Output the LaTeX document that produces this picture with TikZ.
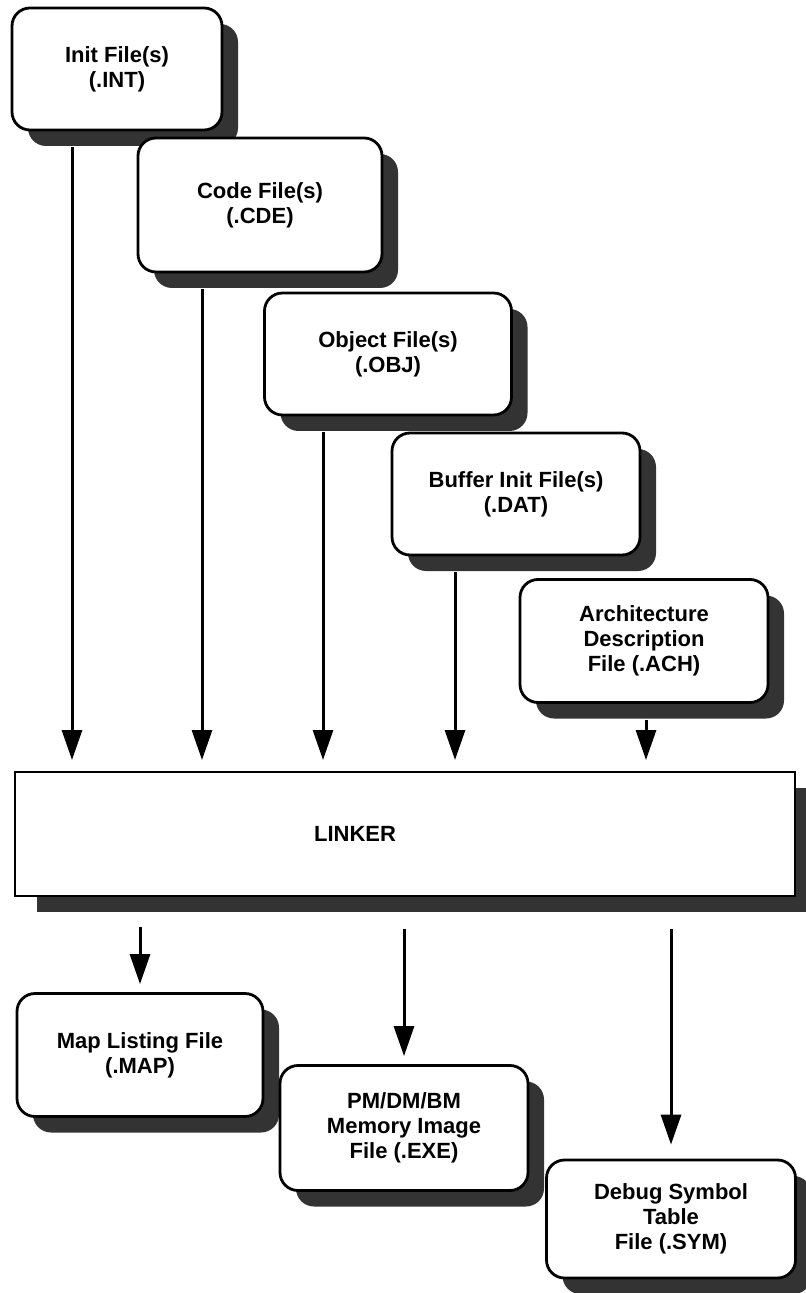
\documentclass[tikz,border=0pt]{standalone}
\usepackage{fontspec}
\setmainfont{Liberation Sans}
\usetikzlibrary{positioning,shadows,arrows.meta}

\tikzset{
  filebox/.style={draw,line width=1.4pt,rounded corners=9pt,fill=white,align=center,
    font=\bfseries\fontsize{11}{12.5}\selectfont,
    drop shadow={shadow xshift=8pt,shadow yshift=-8pt,fill=black!80,opacity=1}},
  linkbox/.style={draw,line width=1.4pt,fill=white,
    font=\bfseries\fontsize{11}{12.5}\selectfont,
    minimum width=390pt,minimum height=62pt,
    drop shadow={shadow xshift=11pt,shadow yshift=-8pt,fill=black!80,opacity=1}},
  arr/.style={-{Triangle[length=15pt,width=10pt]},line width=1.5pt}
}

\begin{document}
\begin{tikzpicture}[x=0.5pt,y=-0.5pt]
              \useasboundingbox (0,0) rectangle (806,1293);

              %input files
              \node[filebox,minimum width=105pt,minimum height=61pt] (init) at (117,69) {Init File(s)\\(.INT)};
              \node[filebox,minimum width=122pt,minimum height=67pt] (code) at (260,205) {Code File(s)\\(.CDE)};
              \node[filebox,minimum width=123.5pt,minimum height=61pt] (object) at (388,354) {Object File(s)\\(.OBJ)};
              \node[filebox,minimum width=124pt,minimum height=61pt] (buffer) at (516,494) {Buffer Init File(s)\\(.DAT)};
              \node[filebox,minimum width=124pt,minimum height=61.5pt] (arch) at (644,641) {Architecture\\Description\\File (.ACH)};

              \node[linkbox] (linker) at (405,834) {LINKER\hspace*{50pt}};

              %output files
              \node[filebox,minimum width=123pt,minimum height=61.5pt] (map) at (140,1055) {Map Listing File\\(.MAP)};
              \node[filebox,minimum width=124pt,minimum height=62.5pt] (pm) at (404,1128) {PM/DM/BM\\Memory Image\\File (.EXE)};
              \node[filebox,minimum width=124.5pt,minimum height=59pt] (debug) at (671,1219) {Debug Symbol\\Table\\File (.SYM)};

              \coordinate (in1) at (72,772);
              \coordinate (in2) at (202,772);
              \coordinate (in3) at (323,772);
              \coordinate (in4) at (455,772);
              \coordinate (in5) at (646,772);

              %files>linker
              \draw[arr,shorten <=8pt,shorten >=6pt] (init.south -| in1) -- (in1);
              \draw[arr,shorten <=8pt,shorten >=6pt] (code.south -| in2) -- (in2);
              \draw[arr,shorten <=8pt,shorten >=6pt] (object.south -| in3) -- (in3);
              \draw[arr,shorten <=8pt,shorten >=6pt] (buffer.south -| in4) -- (in4);
              \draw[arr,shorten <=8pt,shorten >=6pt] (arch.south -| in5) -- (in5);

              %linker>files
              \draw[arr,shorten <=15pt,shorten >=4pt] (linker.south -| map.north) -- (map.north);
              \draw[arr,shorten <=16pt,shorten >=4pt] (linker.south -| pm.north) -- (pm.north);
              \draw[arr,shorten <=16pt,shorten >=7pt] (linker.south -| debug.north) -- (debug.north);
            \end{tikzpicture}
\end{document}
